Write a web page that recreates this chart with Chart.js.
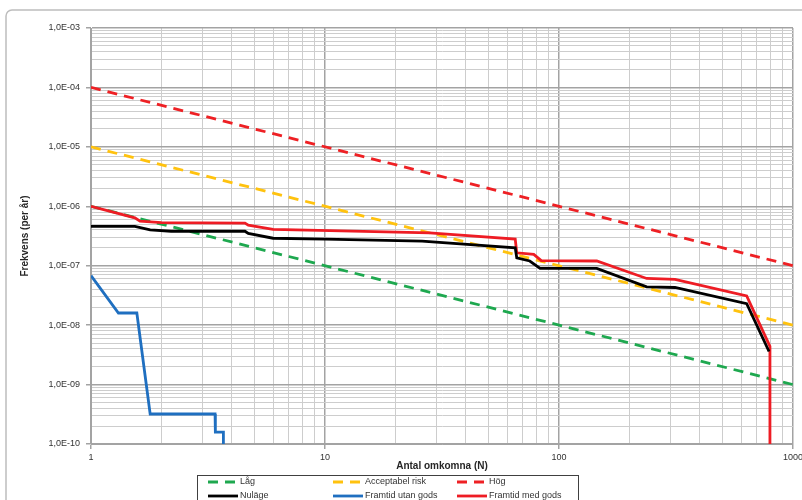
<!DOCTYPE html>
<html>
<head>
<meta charset="utf-8">
<script src="https://cdn.jsdelivr.net/npm/chart.js@4.4.1/dist/chart.umd.min.js"></script>
<style>
  html, body { margin: 0; padding: 0; background: #fff; }
  canvas { display: block; }
</style>
</head>
<body>
<canvas id="fn-chart" width="802" height="500"></canvas>
<script>
// axlar
var xMajors = [1, 10, 100, 1000];
var xTickLabels = ['1', '10', '100', '1000'];
var yMajors = [1e-10, 1e-9, 1e-8, 1e-7, 1e-6, 1e-5, 1e-4, 1e-3];
var yTickLabels = ['1,0E-10', '1,0E-09', '1,0E-08', '1,0E-07', '1,0E-06', '1,0E-05', '1,0E-04', '1,0E-03'];

// kriterier (streckade)
var lagN = [1, 1000];
var lagF = [1e-6, 1e-9];
var acceptN = [1, 1000];
var acceptF = [1e-5, 1e-8];
var hogN = [1, 1000];
var hogF = [1e-4, 1e-7];

// F/N-kurvor
var nulageN = [1, 1.54, 1.79, 2.2, 4.55, 4.7, 6.0, 10, 26, 65, 66, 75, 83, 145, 237, 313, 634, 790];
var nulageF = [4.6e-7, 4.6e-7, 4.0e-7, 3.8e-7, 3.8e-7, 3.5e-7, 2.9e-7, 2.8e-7, 2.6e-7, 2.0e-7, 1.35e-7, 1.2e-7, 9.0e-8, 9.0e-8, 4.4e-8, 4.3e-8, 2.3e-8, 3.6e-9];

var utanN = [1, 1.31, 1.57, 1.79, 3.39, 3.4, 3.68, 3.68];
var utanF = [6.8e-8, 1.6e-8, 1.6e-8, 3.2e-10, 3.2e-10, 1.58e-10, 1.58e-10, 1e-10];

var medN = [1, 1.54, 1.62, 2.0, 4.55, 4.7, 6.0, 10.5, 28, 65, 66, 78, 84, 145, 237, 313, 634, 797, 797];
var medF = [1e-6, 6.4e-7, 5.6e-7, 5.3e-7, 5.2e-7, 4.8e-7, 4.1e-7, 3.9e-7, 3.56e-7, 2.8e-7, 1.65e-7, 1.55e-7, 1.22e-7, 1.2e-7, 6.1e-8, 5.9e-8, 3.1e-8, 4.4e-9, 1e-10];

function toPoints(n, f) {
  return n.map(function (v, i) { return { x: v, y: f[i] }; });
}

function isMajor(v) {
  var e = Math.log10(v);
  return Math.abs(e - Math.round(e)) < 1e-6;
}

function majorLabel(v, majors, labels) {
  for (var i = 0; i < majors.length; i++) {
    if (Math.abs(v / majors[i] - 1) < 1e-6) return labels[i];
  }
  return '';
}

function logTicks(minExp, maxExp) {
  var ticks = [];
  for (var e = minExp; e < maxExp; e++) {
    for (var m = 1; m <= 9; m++) {
      ticks.push({ value: m * Math.pow(10, e), major: m === 1 });
    }
  }
  ticks.push({ value: Math.pow(10, maxExp), major: true });
  return ticks;
}

var fontFamily = '"Liberation Sans", Arial, sans-serif';

var gridOpts = {
  color: function (ctx) { return ctx.tick && isMajor(ctx.tick.value) ? '#a3a3a3' : '#cdcdcd'; },
  lineWidth: function (ctx) { return ctx.tick && isMajor(ctx.tick.value) ? 1.5 : 1; },
  tickLength: 5,
  tickColor: function (ctx) { return ctx.tick && isMajor(ctx.tick.value) ? '#a3a3a3' : 'rgba(0,0,0,0)'; }
};

// vit bakgrund + ram runt diagrammet
var framePlugin = {
  id: 'frame',
  beforeDraw: function (chart) {
    var ctx = chart.ctx;
    ctx.save();
    ctx.fillStyle = '#fff';
    ctx.fillRect(0, 0, chart.width, chart.height);
    ctx.strokeStyle = '#bdbdbd';
    ctx.lineWidth = 1.5;
    ctx.beginPath();
    ctx.roundRect(6, 10, 830, 530, 6);
    ctx.stroke();
    ctx.restore();
  }
};

// förklaring i tre kolumner, som i Excel
var legendPlugin = {
  id: 'fnLegend',
  afterDraw: function (chart) {
    var ctx = chart.ctx;
    var colX = [208, 333, 457];
    var rowY = [482, 496];
    ctx.save();
    ctx.fillStyle = '#fff';
    ctx.fillRect(197, 475, 381, 40);
    ctx.strokeStyle = '#404040';
    ctx.lineWidth = 1;
    ctx.strokeRect(197.5, 475.5, 381, 40);
    ctx.font = '9px ' + fontFamily;
    ctx.textBaseline = 'middle';
    chart.data.datasets.forEach(function (ds, i) {
      var x = colX[i % 3];
      var y = rowY[Math.floor(i / 3)];
      ctx.beginPath();
      ctx.setLineDash(ds.borderDash || []);
      ctx.strokeStyle = ds.borderColor;
      ctx.lineWidth = ds.borderWidth;
      ctx.moveTo(x, y);
      ctx.lineTo(x + 30, y);
      ctx.stroke();
      ctx.setLineDash([]);
      ctx.fillStyle = '#333';
      ctx.fillText(ds.label, x + 32, y);
    });
    ctx.restore();
  }
};

var chart = new Chart(document.getElementById('fn-chart'), {
  type: 'line',
  data: {
    datasets: [
      { label: 'Låg', data: toPoints(lagN, lagF), borderColor: '#1ea84f', borderDash: [10, 7], borderWidth: 2.8, order: 2 },
      { label: 'Acceptabel risk', data: toPoints(acceptN, acceptF), borderColor: '#ffc20e', borderDash: [10, 7], borderWidth: 2.8, order: 2 },
      { label: 'Hög', data: toPoints(hogN, hogF), borderColor: '#ee2024', borderDash: [10, 7], borderWidth: 2.8, order: 2 },
      { label: 'Nuläge', data: toPoints(nulageN, nulageF), borderColor: '#000000', borderWidth: 2.8, order: 1 },
      { label: 'Framtid utan gods', data: toPoints(utanN, utanF), borderColor: '#1f6fc0', borderWidth: 2.8, order: 1 },
      { label: 'Framtid med gods', data: toPoints(medN, medF), borderColor: '#ee1c24', borderWidth: 2.8, order: 1 }
    ]
  },
  options: {
    responsive: false,
    animation: false,
    layout: { padding: { left: 0, right: 9, top: 28, bottom: 26 } },
    elements: { point: { radius: 0 }, line: { tension: 0, borderCapStyle: 'butt' } },
    plugins: { legend: { display: false }, tooltip: { enabled: false } },
    scales: {
      x: {
        type: 'logarithmic',
        min: 1,
        max: 1000,
        afterBuildTicks: function (scale) { scale.ticks = logTicks(0, 3); },
        afterFit: function (scale) { scale.height = 30; scale.paddingLeft = 0; scale.paddingRight = 0; },
        grid: gridOpts,
        border: { color: '#a3a3a3' },
        ticks: {
          autoSkip: false,
          maxRotation: 0,
          padding: 3,
          color: '#333',
          font: { family: fontFamily, size: 9 },
          callback: function (v) { return majorLabel(v, xMajors, xTickLabels); }
        },
        title: {
          display: true,
          text: 'Antal omkomna (N)',
          color: '#262626',
          font: { family: fontFamily, size: 10, weight: 'bold' },
          padding: { top: 0, bottom: 2 }
        }
      },
      y: {
        type: 'logarithmic',
        min: 1e-10,
        max: 1e-3,
        afterBuildTicks: function (scale) { scale.ticks = logTicks(-10, -3); },
        afterFit: function (scale) { scale.width = 91; scale.paddingTop = 0; scale.paddingBottom = 0; },
        grid: gridOpts,
        border: { color: '#a3a3a3' },
        ticks: {
          autoSkip: false,
          padding: 6,
          color: '#333',
          font: { family: fontFamily, size: 9 },
          callback: function (v) { return majorLabel(v, yMajors, yTickLabels); }
        },
        title: {
          display: true,
          text: 'Frekvens (per år)',
          color: '#262626',
          font: { family: fontFamily, size: 10, weight: 'bold' },
          padding: { top: 19, bottom: 0 }
        }
      }
    }
  },
  plugins: [framePlugin, legendPlugin]
});
</script>
</body>
</html>
